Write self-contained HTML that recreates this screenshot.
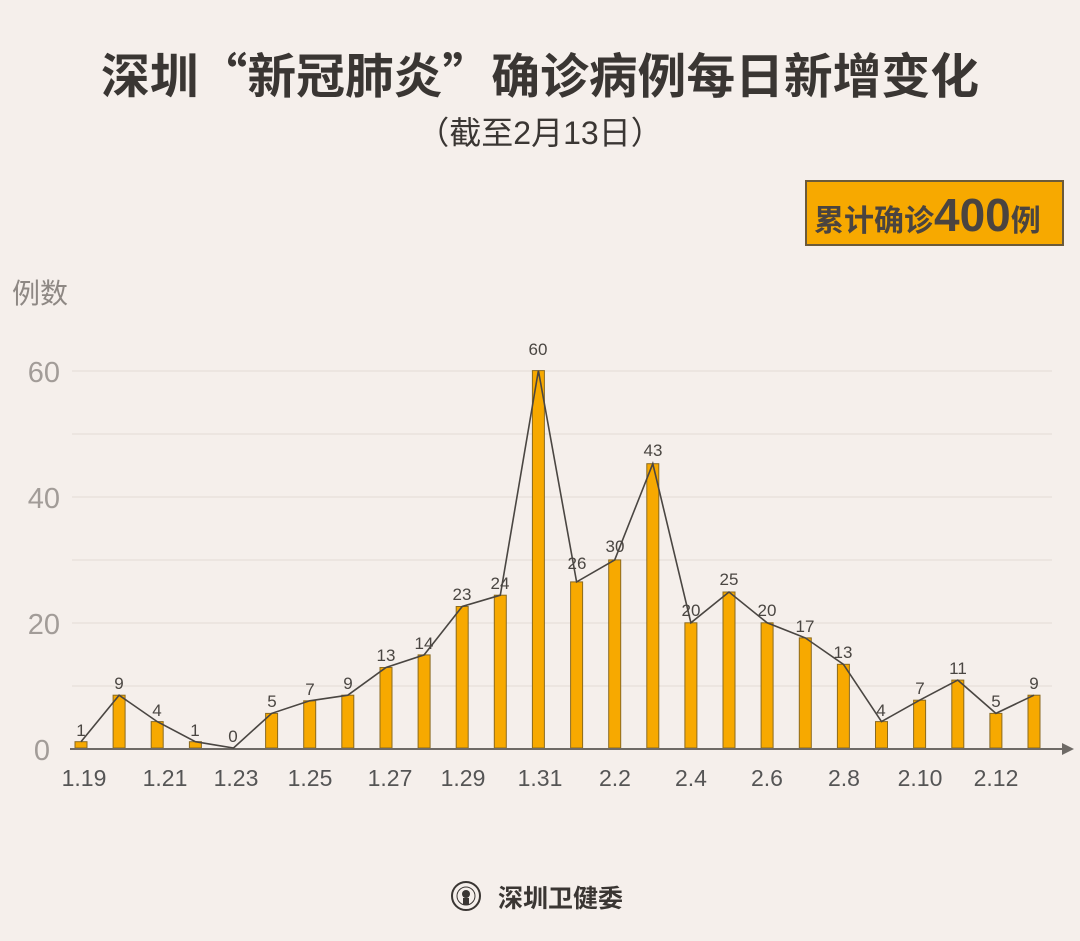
<!DOCTYPE html>
<html><head><meta charset="utf-8"><style>
body{margin:0;width:1080px;height:941px;background:#f5efeb;overflow:hidden}
svg{display:block}
</style></head><body>
<svg width="1080" height="941" xmlns="http://www.w3.org/2000/svg" font-family="Liberation Sans, Noto Sans CJK SC, sans-serif">
<rect width="1080" height="941" fill="#f5efeb"/>
<text x="540" y="93" text-anchor="middle" font-size="48" font-weight="bold" fill="#3a3633" font-family="Noto Sans CJK SC, sans-serif" textLength="878" lengthAdjust="spacingAndGlyphs">深圳“新冠肺炎”确诊病例每日新增变化</text>
<text x="540" y="144" text-anchor="middle" font-size="32" fill="#3a3633" font-family="Liberation Sans, Noto Sans CJK SC, sans-serif">（截至2月13日）</text>
<rect x="806" y="181" width="257" height="64" fill="#f7a900" stroke="#6b5a3a" stroke-width="2"/>
<text x="814" y="231" font-size="30" font-weight="bold" fill="#4a4440" font-family="Noto Sans CJK SC, sans-serif">累计确诊<tspan font-size="46" font-family="Liberation Sans, sans-serif">400</tspan>例</text>
<text x="12" y="303" font-size="28" fill="#8e8884" font-family="Noto Sans CJK SC, sans-serif">例数</text>
<g stroke="#e2dbd6" stroke-width="1">
<line x1="72" y1="371" x2="1052" y2="371"/><line x1="72" y1="434" x2="1052" y2="434"/>
<line x1="72" y1="497" x2="1052" y2="497"/><line x1="72" y1="560" x2="1052" y2="560"/>
<line x1="72" y1="623" x2="1052" y2="623"/><line x1="72" y1="686" x2="1052" y2="686"/>
</g>
<g font-size="29" fill="#a29c98" text-anchor="end">
<text x="60" y="382">60</text><text x="60" y="508">40</text><text x="60" y="634">20</text><text x="50" y="760">0</text>
</g>
<g fill="#f7a900" stroke="#8a6a20" stroke-width="1">
<rect x="75" y="741.7" width="12" height="6.3"/>
<rect x="113.1" y="695.2" width="12" height="52.8"/>
<rect x="151.2" y="721.6" width="12" height="26.4"/>
<rect x="189.4" y="741.7" width="12" height="6.3"/>
<rect x="265.6" y="713.4" width="12" height="34.6"/>
<rect x="303.7" y="700.8" width="12" height="47.2"/>
<rect x="341.8" y="695.2" width="12" height="52.8"/>
<rect x="380" y="667.5" width="12" height="80.5"/>
<rect x="418.1" y="654.9" width="12" height="93.1"/>
<rect x="456.2" y="606.5" width="12" height="141.5"/>
<rect x="494.3" y="595.2" width="12" height="152.8"/>
<rect x="532.4" y="370.6" width="12" height="377.4"/>
<rect x="570.6" y="581.9" width="12" height="166.1"/>
<rect x="608.7" y="559.9" width="12" height="188.1"/>
<rect x="646.8" y="463.7" width="12" height="284.3"/>
<rect x="684.9" y="622.8" width="12" height="125.2"/>
<rect x="723" y="592" width="12" height="156"/>
<rect x="761.1" y="622.8" width="12" height="125.2"/>
<rect x="799.3" y="637.9" width="12" height="110.1"/>
<rect x="837.4" y="664.3" width="12" height="83.7"/>
<rect x="875.5" y="721.6" width="12" height="26.4"/>
<rect x="913.6" y="700.2" width="12" height="47.8"/>
<rect x="951.8" y="680.1" width="12" height="67.9"/>
<rect x="989.9" y="713.4" width="12" height="34.6"/>
<rect x="1028" y="695.2" width="12" height="52.8"/>
</g>
<line x1="70" y1="749" x2="1066" y2="749" stroke="#6e6a66" stroke-width="2"/>
<polygon points="1062,743 1074,749 1062,755" fill="#6e6a66"/>
<polyline fill="none" stroke="#4a4642" stroke-width="1.6" points="81,741.7 119.1,695.2 157.2,721.6 195.4,741.7 233.5,748 271.6,713.4 309.7,700.8 347.8,695.2 386,667.5 424.1,654.9 462.2,606.5 500.3,595.2 538.4,370.6 576.6,581.9 614.7,559.9 652.8,463.7 690.9,622.8 729,592 767.1,622.8 805.3,637.9 843.4,664.3 881.5,721.6 919.6,700.2 957.8,680.1 995.9,713.4 1034,695.2"/>
<g font-size="17" fill="#4a4642" text-anchor="middle">
<text x="81" y="736">1</text><text x="119" y="689">9</text><text x="157" y="716">4</text><text x="195" y="736">1</text>
<text x="233" y="742">0</text><text x="272" y="707">5</text><text x="310" y="695">7</text><text x="348" y="689">9</text>
<text x="386" y="661">13</text><text x="424" y="649">14</text><text x="462" y="600">23</text><text x="500" y="589">24</text>
<text x="538" y="355">60</text><text x="577" y="569">26</text><text x="615" y="552">30</text><text x="653" y="456">43</text>
<text x="691" y="616">20</text><text x="729" y="585">25</text><text x="767" y="616">20</text><text x="805" y="632">17</text>
<text x="843" y="658">13</text><text x="881" y="716">4</text><text x="920" y="694">7</text><text x="958" y="674">11</text>
<text x="996" y="707">5</text><text x="1034" y="689">9</text>
</g>
<g font-size="23" fill="#555" text-anchor="middle">
<text x="84" y="786">1.19</text><text x="165" y="786">1.21</text><text x="236" y="786">1.23</text>
<text x="310" y="786">1.25</text><text x="390" y="786">1.27</text><text x="463" y="786">1.29</text>
<text x="540" y="786">1.31</text><text x="615" y="786">2.2</text><text x="691" y="786">2.4</text>
<text x="767" y="786">2.6</text><text x="844" y="786">2.8</text><text x="920" y="786">2.10</text>
<text x="996" y="786">2.12</text>
</g>
<g transform="translate(466,896)">
<circle r="14" fill="none" stroke="#3a3633" stroke-width="2"/>
<circle r="9" fill="none" stroke="#3a3633" stroke-width="1"/>
<circle cy="-2" r="4" fill="#3a3633"/><rect x="-3" y="2" width="6" height="7" fill="#3a3633"/>
</g>
<text x="498" y="907" font-size="25" font-weight="bold" fill="#3a3633" font-family="Noto Sans CJK SC, sans-serif">深圳卫健委</text>
</svg>
</body></html>
